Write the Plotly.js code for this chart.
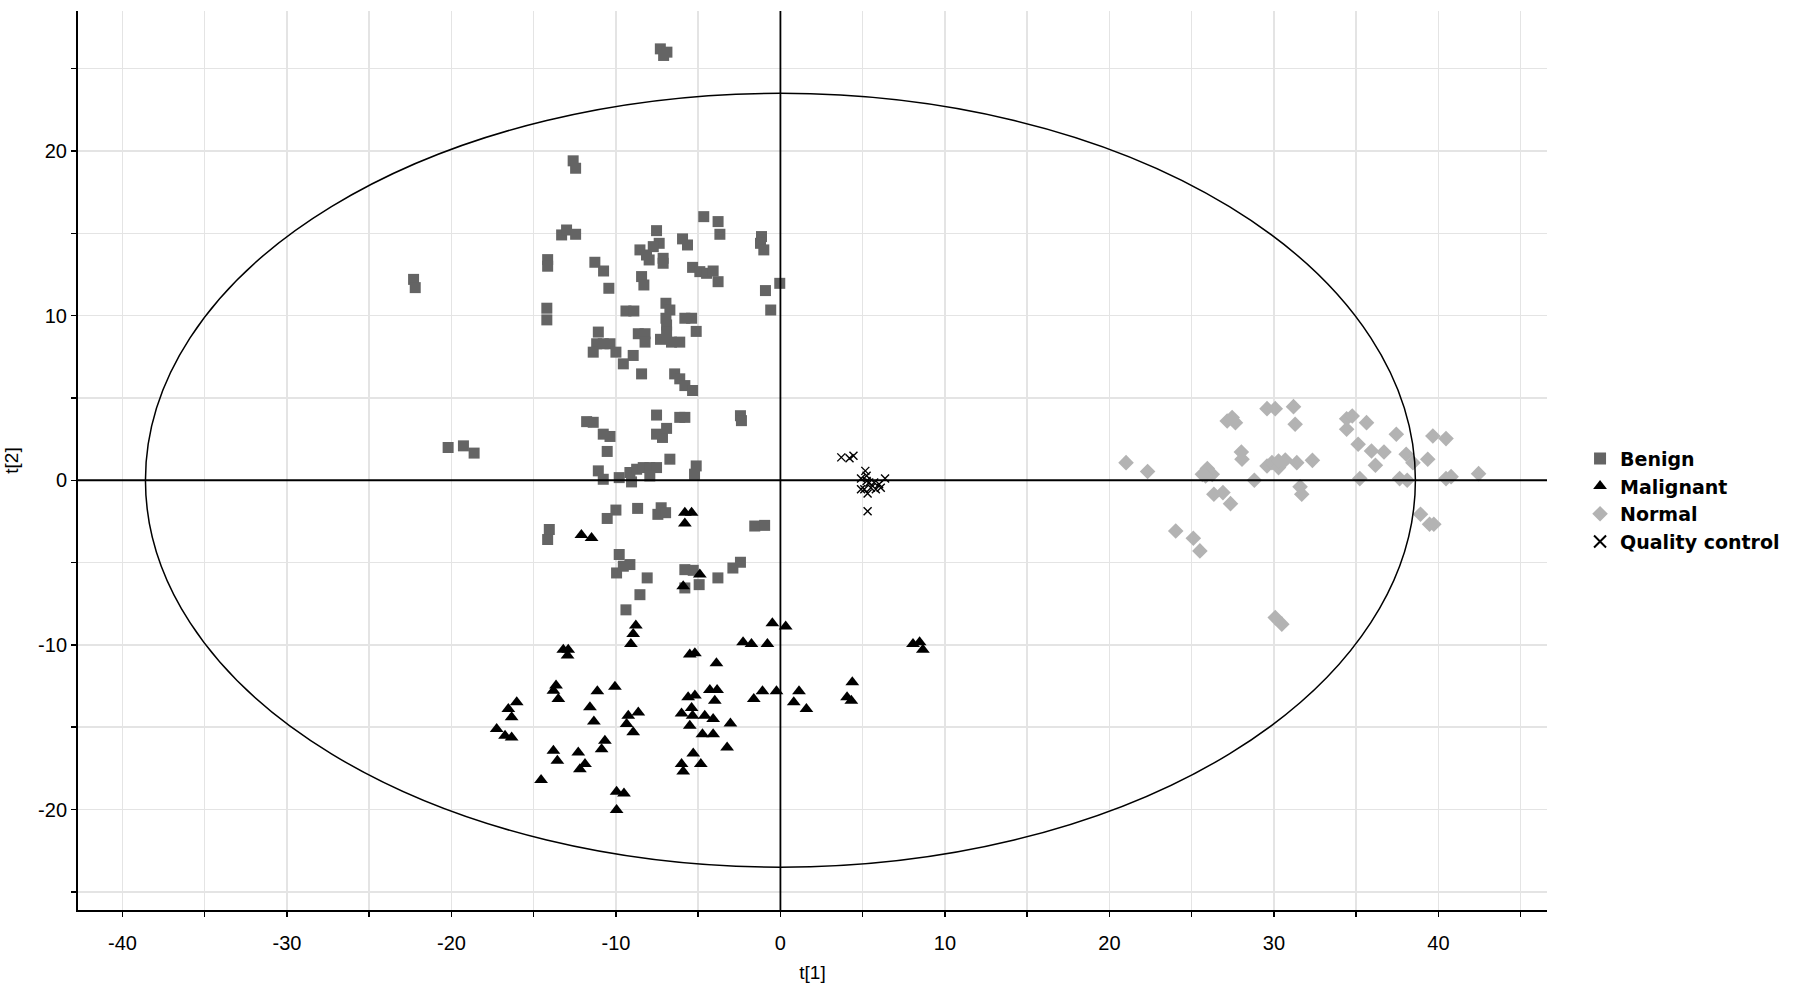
<!DOCTYPE html>
<html>
<head>
<meta charset="utf-8">
<script src="https://cdn.plot.ly/plotly-3.0.1.min.js"></script>
<style>
  html, body { margin: 0; padding: 0; background: #ffffff; }
  #chart { width: 1795px; height: 992px; }
</style>
</head>
<body>
<div id="chart"></div>
<script>
// ---------------- Data ----------------
const benignX = [
  -7.3, -6.9, -7.1,
  -12.6, -12.45,
  -22.3, -22.2,
  -13.3, -13.0, -12.45,
  -14.15, -14.15,
  -11.28, -10.75,
  -10.43,
  -7.53,
  -7.37, -7.73, -8.54, -8.14, -7.98, -7.13, -7.13,
  -5.95, -5.65,
  -4.66, -3.79, -3.68,
  -5.34, -4.9, -4.49, -4.09, -3.79,
  -8.44, -8.3,
  -1.15, -1.21, -1.01,
  -0.04,
  -0.91, -0.59,
  -14.2, -14.2,
  -9.39, -8.91,
  -6.96, -6.72, -6.96, -6.92,
  -5.81, -5.4,
  -11.07, -11.17, -11.38, -10.77, -10.36, -10.0,
  -9.55,
  -8.95, -8.64, -8.23, -8.23,
  -8.44,
  -7.29, -6.62, -6.12, -6.92,
  -5.12,
  -6.43, -6.12, -5.81, -5.34,
  -11.78, -11.38, -10.77, -10.36,
  -10.53,
  -7.53, -6.12, -5.81, -7.53, -7.17, -6.92,
  -2.43, -2.37,
  -20.2, -19.27, -18.62,
  -11.07, -10.77, -9.8, -9.15, -8.74, -8.34, -7.94, -7.53, -6.72, -9.05, -7.94,
  -5.12, -5.22,
  -10.0, -10.53,
  -8.68,
  -7.25, -7.45, -6.98,
  -14.05, -14.15,
  -1.56, -0.96,
  -9.8, -9.15, -9.96, -9.55,
  -8.1,
  -8.54,
  -9.39,
  -5.81, -5.3, -4.94, -5.81,
  -3.8,
  -2.89, -2.43
];
const benignY = [
  26.2, 26.0, 25.8,
  19.4, 18.95,
  12.2, 11.7,
  14.9, 15.2, 14.94,
  13.4, 13.0,
  13.24, 12.71,
  11.66,
  15.16,
  14.39, 14.19, 13.99, 13.68, 13.38, 13.48, 13.18,
  14.66, 14.29,
  16.01, 15.71, 14.94,
  12.93, 12.67, 12.57, 12.71, 12.06,
  12.37, 11.86,
  14.8, 14.39, 13.99,
  11.96,
  11.52, 10.34,
  10.45, 9.74,
  10.28, 10.28,
  10.75, 10.34, 9.84, 9.43,
  9.84, 9.84,
  9.0, 8.29, 7.78, 8.29, 8.29, 7.78,
  7.07,
  7.58, 8.9, 8.9, 8.39,
  6.46,
  8.56, 8.39, 8.39, 9.0,
  9.04,
  6.46, 6.16, 5.75, 5.45,
  3.56, 3.52, 2.8, 2.66,
  1.75,
  3.96, 3.82, 3.82, 2.8, 2.6, 3.15,
  3.92, 3.62,
  1.99, 2.09, 1.65,
  0.57, 0.06, 0.16, 0.47, 0.67, 0.77, 0.77, 0.77, 1.28, -0.1, 0.26,
  0.87, 0.37,
  -1.81, -2.32,
  -1.71,
  -1.67, -2.07, -1.97,
  -2.99, -3.6,
  -2.78, -2.74,
  -4.51, -5.12, -5.63, -5.22,
  -5.93,
  -6.95,
  -7.87,
  -5.43, -5.47, -6.34, -6.54,
  -5.93,
  -5.33, -4.98
];

const malignantX = [
  -12.1, -11.48, -5.81, -5.4, -5.81, -4.9, -5.91,
  -8.79, -8.95, -9.09,
  -13.2, -12.9, -12.94,
  -5.51, -5.2,
  -3.89,
  -0.49, 0.32,
  -2.27, -1.76, -0.79,
  8.06, 8.46, 8.66,
  -13.64, -13.8, -13.5,
  -16.03, -16.54, -16.34,
  -17.25, -16.74, -16.34,
  -11.13, -10.06,
  -11.58, -11.34,
  -9.25, -9.35, -8.64, -8.95,
  -10.67, -10.87,
  -13.8, -13.56,
  -12.29, -11.88, -12.19,
  -14.55,
  -9.96, -9.51, -9.96,
  -5.61, -5.2, -4.29, -3.85, -3.99,
  -6.01, -5.4, -5.34, -4.6, -4.09, -5.51,
  -3.04,
  -4.74, -4.09,
  -3.24,
  -5.3, -4.84,
  -6.01, -5.91,
  -1.62, -1.09,
  -0.24,
  1.13, 0.81, 1.58,
  4.37, 4.05, 4.31
];
const malignantY = [
  -3.33, -3.5, -1.97, -1.97, -2.62, -5.73, -6.44,
  -8.82, -9.33, -9.94,
  -10.3, -10.3, -10.65,
  -10.59, -10.51,
  -11.12,
  -8.68, -8.88,
  -9.84, -9.94, -9.94,
  -9.94, -9.84, -10.3,
  -12.47, -12.78, -13.29,
  -13.49, -13.9, -14.4,
  -15.11, -15.52, -15.62,
  -12.82, -12.54,
  -13.79, -14.65,
  -14.3, -14.81, -14.1, -15.31,
  -15.82, -16.33,
  -16.43, -17.04,
  -16.53, -17.24, -17.55,
  -18.2,
  -18.92, -19.03, -20.02,
  -13.18, -13.08, -12.74, -12.74, -13.39,
  -14.16, -13.83, -14.3, -14.3, -14.5, -14.91,
  -14.77,
  -15.42, -15.42,
  -16.23,
  -16.59, -17.24,
  -17.24, -17.69,
  -13.29, -12.82,
  -12.82,
  -12.82, -13.49, -13.9,
  -12.27, -13.18, -13.39
];

const normalX = [
  21.01, 22.32,
  24.03, 25.1, 25.5,
  25.65, 25.95, 26.25, 25.85,
  26.35, 26.9, 27.36,
  27.16, 27.46, 27.66,
  28.02, 28.06,
  28.81,
  29.58, 30.08,
  31.19, 31.29,
  29.58, 29.88, 30.28, 30.69, 30.28, 31.39, 32.34,
  31.59, 31.69,
  30.08, 30.48,
  34.42, 34.76, 34.42,
  35.63, 35.12,
  35.93, 36.69, 36.17,
  35.22,
  37.44,
  38.04, 38.45, 39.35,
  37.64, 38.1,
  39.66, 40.46,
  38.91, 39.46, 39.72,
  40.46, 40.77,
  42.44
];
const normalY = [
  1.07, 0.53,
  -3.08, -3.52, -4.29,
  0.36, 0.71, 0.36, 0.26,
  -0.85, -0.75, -1.42,
  3.6, 3.81, 3.5,
  1.72, 1.28,
  0.0,
  4.35, 4.35,
  4.47, 3.4,
  0.87, 1.07, 0.77, 1.23, 1.17, 1.07, 1.21,
  -0.4, -0.85,
  -8.34, -8.74,
  3.74, 3.9, 3.1,
  3.5, 2.19,
  1.78, 1.72, 0.91,
  0.1,
  2.79,
  1.58, 1.07, 1.28,
  0.1, 0.0,
  2.69, 2.53,
  -2.06, -2.67, -2.67,
  0.1, 0.22,
  0.4
];

const qcX = [3.7, 4.2, 4.44, 5.16, 5.24, 4.9, 5.24, 5.4, 5.7, 6.0, 6.36, 5.1, 5.5, 5.8, 6.1, 4.9, 5.3, 5.3];
const qcY = [1.39, 1.33, 1.49, 0.57, 0.27, 0.1, -0.04, -0.14, -0.14, -0.24, 0.1, -0.55, -0.45, -0.55, -0.45, -0.55, -0.8, -1.88];

const groupNames = ['Benign', 'Malignant', 'Normal', 'Quality control'];

const xTickVals = [-40, -30, -20, -10, 0, 10, 20, 30, 40];
const xTickText = ['-40', '-30', '-20', '-10', '0', '10', '20', '30', '40'];
const yTickVals = [-20, -10, 0, 10, 20];
const yTickText = ['-20', '-10', '0', '10', '20'];

// Hotelling T2 (95%) ellipse semi-axes
const ellipseA = 38.6;
const ellipseB = 23.5;

// ---------------- Chart ----------------
const FONT = 'Liberation Sans, Arial, sans-serif';

const traces = [
  {
    x: benignX, y: benignY, name: groupNames[0], type: 'scatter', mode: 'markers',
    marker: { symbol: 'square', size: 11, color: '#646464' }
  },
  {
    x: malignantX, y: malignantY, name: groupNames[1], type: 'scatter', mode: 'markers',
    marker: { symbol: 'triangle-up', size: 12, color: '#000000' }
  },
  {
    x: normalX, y: normalY, name: groupNames[2], type: 'scatter', mode: 'markers',
    marker: { symbol: 'diamond', size: 12, color: '#b3b3b3' }
  },
  {
    x: qcX, y: qcY, name: groupNames[3], type: 'scatter', mode: 'markers',
    marker: { symbol: 'x-thin', size: 8, color: '#000000', line: { color: '#000000', width: 1.4 } }
  }
];

const axisCommon = {
  showline: true, linecolor: '#000000', linewidth: 2,
  ticks: 'outside', ticklen: 5, tickwidth: 1.5, tickcolor: '#000000',
  showgrid: true, gridcolor: '#e4e4e4', gridwidth: 1.5,
  zeroline: false, mirror: false,
  tickfont: { family: FONT, size: 20, color: '#000000' },
  minor: { dtick: 5, tick0: 0, ticks: 'outside', ticklen: 5, tickwidth: 1.5, tickcolor: '#000000',
           showgrid: true, gridcolor: '#e4e4e4', gridwidth: 1.5 }
};

const layout = {
  width: 1795, height: 992,
  paper_bgcolor: '#ffffff', plot_bgcolor: '#ffffff',
  margin: { l: 78, r: 247, t: 11, b: 82 },
  font: { family: FONT, color: '#000000' },
  showlegend: true,
  legend: {
    x: 1.0218, xanchor: 'left', y: 0.456, yanchor: 'middle',
    font: { family: 'DejaVu Sans, Liberation Sans, sans-serif', size: 19, color: '#000000', weight: 'bold' },
    bgcolor: 'rgba(0,0,0,0)', itemsizing: 'constant'
  },
  xaxis: Object.assign({}, axisCommon, {
    range: [-42.7, 46.6], tickmode: 'array', tickvals: xTickVals, ticktext: xTickText,
    ticklabelstandoff: 9,
    title: { text: 't[1]', font: { family: FONT, size: 19, color: '#000000' }, standoff: 13 }
  }),
  yaxis: Object.assign({}, axisCommon, {
    range: [-26.1, 28.5], tickmode: 'array', tickvals: yTickVals, ticktext: yTickText,
    title: { text: 't[2]', font: { family: FONT, size: 19, color: '#000000' }, standoff: 14 }
  }),
  shapes: [
    { type: 'circle', xref: 'x', yref: 'y', x0: -ellipseA, x1: ellipseA, y0: -ellipseB, y1: ellipseB,
      line: { color: '#000000', width: 1.5 }, layer: 'above' },
    { type: 'line', xref: 'x', yref: 'paper', x0: 0, x1: 0, y0: 0, y1: 1,
      line: { color: '#000000', width: 1.8 }, layer: 'above' },
    { type: 'line', xref: 'paper', yref: 'y', x0: 0, x1: 1, y0: 0, y1: 0,
      line: { color: '#000000', width: 1.8 }, layer: 'above' }
  ]
};

Plotly.newPlot('chart', traces, layout, { displayModeBar: false, responsive: false, staticPlot: true });
</script>
</body>
</html>
